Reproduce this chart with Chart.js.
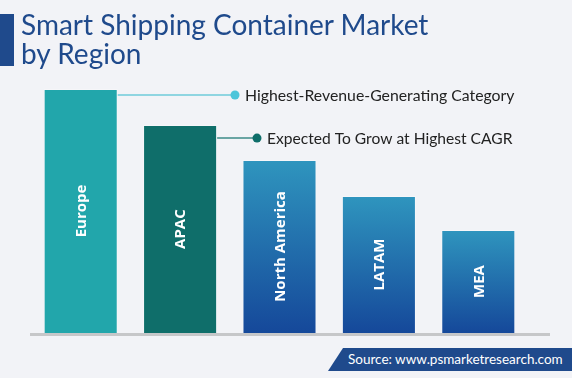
<!DOCTYPE html>
<html>
<head>
<meta charset="utf-8">
<script src="https://cdn.jsdelivr.net/npm/chart.js@4.4.1/dist/chart.umd.min.js"></script>
<style>
  html, body { margin: 0; padding: 0; background: #f2f3f7; }
  #wrap { position: relative; width: 572px; height: 378px; overflow: hidden; }
  #chart { position: absolute; left: 0; top: 0; }
  .title-mark { position: absolute; left: 0; top: 14px; width: 14px; height: 52px; background: #1f4a8c; }
  .title { position: absolute; left: 21px; top: 10px; font-family: Lato, sans-serif; font-size: 28px; line-height: 29px; color: #1f4a8c; white-space: nowrap; }
  .source { position: absolute; left: 328px; top: 348px; width: 244px; height: 23px; background: #1f4a8c;
            clip-path: polygon(15px 0, 100% 0, 100% 100%, 0 100%); }
  .source span { position: absolute; left: 20px; top: 3px; font-family: Lato, sans-serif; font-size: 13.5px; color: #fff; white-space: nowrap; }
</style>
</head>
<body>
<div id="wrap">
  <canvas id="chart" width="572" height="378"></canvas>
  <div class="title-mark"></div>
  <div class="title">Smart Shipping Container Market<br>by Region</div>
  <div class="source"><span>Source: www.psmarketresearch.com</span></div>
</div>
<script>
// Data (relative market size)
const regions = ['Europe', 'APAC', 'North America', 'LATAM', 'MEA'];
const shares = [100, 85.2, 70.9, 56.1, 42.2];
const callouts = ['Highest-Revenue-Generating Category', 'Expected To Grow at Highest CAGR'];

const solidColors = ['#22a6ab', '#0f6e6a'];

function barFill(ctx) {
    const i = ctx.dataIndex;
    if (i < solidColors.length) return solidColors[i];
    const chart = ctx.chart;
    const yScale = chart.scales.y;
    if (!chart.chartArea || !yScale) return '#2273b0';
    const top = yScale.getPixelForValue(shares[i]);
    const bottom = yScale.getPixelForValue(0);
    const g = chart.ctx.createLinearGradient(0, top, 0, bottom);
    g.addColorStop(0, '#2f95be');
    g.addColorStop(1, '#15489a');
    return g;
}

// baseline, labels inside bars and the two callouts
const decor = {
    id: 'decor',
    afterDatasetsDraw(chart) {
        const c = chart.ctx;
        const area = chart.chartArea;
        const bars = chart.getDatasetMeta(0).data;

        c.save();
        c.fillStyle = '#c6c7c9';
        c.fillRect(area.left - 1, area.bottom, area.right - area.left + 23, 3);

        c.fillStyle = '#ffffff';
        c.font = 'bold 15px "Open Sans", sans-serif';
        c.textAlign = 'center';
        c.textBaseline = 'middle';
        bars.forEach((b, i) => {
            c.save();
            c.translate(b.x + 1, (b.y + b.base) / 2);
            c.rotate(-Math.PI / 2);
            c.fillText(regions[i], 0, 0);
            c.restore();
        });

        const specs = [
            { bar: 0, dy: 6, dotX: 235, size: 15.8, line: '#8fd5e1', dot: '#4cc5da' },
            { bar: 1, dy: 13, dotX: 257, size: 15.6, line: '#6aa5a4', dot: '#0f6e6a' }
        ];
        c.textAlign = 'left';
        specs.forEach((s, k) => {
            const b = bars[s.bar];
            const y = b.y + s.dy;
            c.strokeStyle = s.line;
            c.lineWidth = 2;
            c.beginPath();
            c.moveTo(b.x + b.width / 2, y);
            c.lineTo(s.dotX, y);
            c.stroke();
            c.fillStyle = s.dot;
            c.beginPath();
            c.arc(s.dotX, y, 4.5, 0, Math.PI * 2);
            c.fill();
            c.fillStyle = '#222222';
            c.font = s.size + 'px Lato, sans-serif';
            c.fillText(callouts[k], s.dotX + 10, y + 1);
        });
        c.restore();
    }
};

new Chart(document.getElementById('chart'), {
    type: 'bar',
    data: {
        labels: regions,
        datasets: [{
            data: shares,
            backgroundColor: barFill,
            borderColor: 'rgba(255,255,255,0.3)',
            borderWidth: 1,
            barPercentage: 0.745,
            categoryPercentage: 1
        }]
    },
    options: {
        responsive: false,
        animation: false,
        layout: { padding: { left: 31, right: 44, top: 89, bottom: 45 } },
        scales: {
            x: { display: false },
            y: { display: false, min: 0, max: 100 }
        },
        plugins: { legend: { display: false }, tooltip: { enabled: false } }
    },
    plugins: [decor]
});
</script>
</body>
</html>
